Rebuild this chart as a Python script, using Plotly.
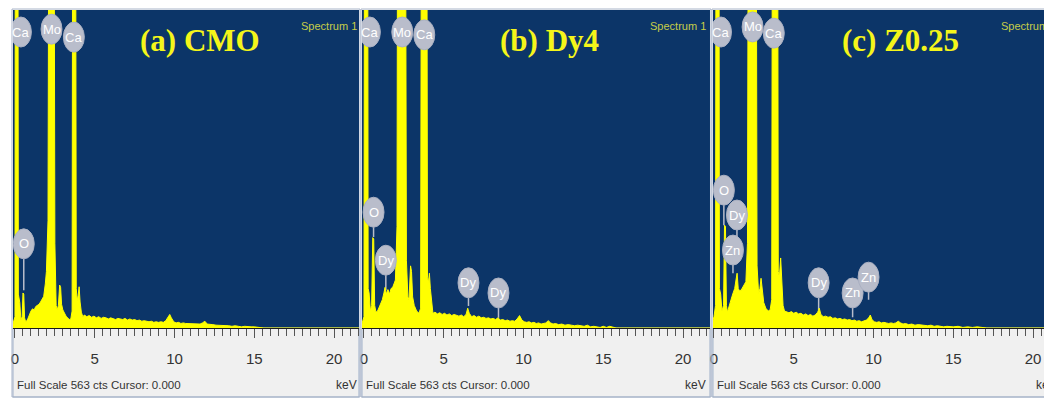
import plotly.graph_objects as go

# ---------------- data ----------------
full_scale_cts = 563
tick_values = [0, 5, 10, 15, 20]
tick_labels = ["0", "5", "10", "15", "20"]
panel_titles = ["(a) CMO", "(b) Dy4", "(c) Z0.25"]

energy_a = [-0.2, 0.0, 0.03, 0.17, 0.21, 0.3, 0.37, 0.45, 0.5, 0.55, 0.6, 0.68, 0.8, 0.9, 1.0, 1.1, 1.2, 1.3,
            1.4, 1.5, 1.6, 1.7, 1.8, 1.9, 1.97, 2.07, 2.15, 2.42, 2.5, 2.58, 2.65, 2.72, 2.8, 2.86, 2.92, 3.0,
            3.1, 3.2, 3.3, 3.4, 3.5, 3.58, 3.63, 3.78, 3.84, 3.9, 3.96, 4.02, 4.08, 4.16, 4.25, 4.35, 4.5, 4.65,
            4.8, 4.95, 5.1, 5.25, 5.4, 5.55, 5.7, 5.85, 6.0, 6.15, 6.3, 6.45, 6.6, 6.75, 6.9, 7.05, 7.2, 7.35,
            7.5, 7.65, 7.8, 7.95, 8.1, 8.25, 8.4, 8.55, 8.7, 8.85, 9.0, 9.15, 9.3, 9.45, 9.6, 9.7, 9.8, 9.95,
            10.1, 10.25, 10.4, 10.55, 10.7, 10.85, 11.0, 11.15, 11.3, 11.45, 11.6, 11.75, 11.9, 12.05, 12.2,
            12.4, 12.6, 12.8, 13.0, 13.2, 13.4, 13.6, 13.8, 14.0, 14.2, 14.4, 14.6, 14.8, 15.0, 15.3, 15.6, 21.8]
counts_a = [0, 20, 1200, 1200, 60, 45, 14, 20, 62, 60, 18, 10, 16, 24, 30, 34, 32, 38,
            40, 42, 46, 50, 56, 78, 100, 190, 1200, 1200, 150, 40, 32, 40, 76, 72, 42, 32,
            26, 21, 18, 15, 16, 30, 1200, 1200, 70, 48, 58, 73, 46, 28, 20, 23, 20, 22,
            19, 21, 18, 20, 17, 19, 18, 16, 18, 17, 15, 17, 16, 15, 17, 14, 16, 14,
            15, 13, 14, 12, 13, 12, 11, 12, 10, 11, 10, 11, 10, 13, 20, 24, 18, 11,
            9, 10, 8, 9, 8, 8, 7, 8, 7, 8, 7, 9, 12, 7, 6,
            6, 5, 5, 5, 4, 4, 3, 4, 3, 2, 3, 2, 2, 2, 1, 0, 0]

energy_b = [-0.2, 0.0, 0.05, 0.22, 0.26, 0.32, 0.4, 0.48, 0.55, 0.61, 0.67, 0.75, 0.85, 0.95, 1.05, 1.15, 1.25,
            1.32, 1.4, 1.5, 1.6, 1.7, 1.8, 1.9, 1.97, 2.07, 2.13, 2.57, 2.66, 2.75, 2.82, 2.92, 2.98, 3.05, 3.15,
            3.3, 3.45, 3.55, 3.62, 3.92, 3.98, 4.04, 4.1, 4.16, 4.25, 4.32, 4.45, 4.6, 4.75, 4.9, 5.05, 5.2,
            5.35, 5.5, 5.65, 5.8, 5.95, 6.1, 6.25, 6.4, 6.5, 6.6, 6.75, 6.9, 7.05, 7.2, 7.35, 7.5, 7.65, 7.8,
            7.95, 8.1, 8.25, 8.4, 8.55, 8.7, 8.85, 9.0, 9.15, 9.3, 9.45, 9.6, 9.75, 9.9, 10.05, 10.2, 10.35,
            10.5, 10.65, 10.8, 10.95, 11.1, 11.25, 11.4, 11.55, 11.7, 11.85, 12.0, 12.2, 12.4, 12.6, 12.8,
            13.0, 13.2, 13.4, 13.6, 13.8, 14.0, 14.2, 14.4, 14.6, 14.8, 15.0, 15.2, 15.4, 15.6, 15.8, 21.8]
counts_b = [0, 20, 1200, 1200, 70, 62, 30, 40, 160, 158, 40, 28, 30, 36, 45, 50, 62,
            72, 60, 68, 60, 70, 72, 78, 85, 180, 1200, 1200, 120, 55, 50, 110, 100, 55, 40,
            30, 26, 35, 1200, 1200, 90, 80, 97, 70, 35, 26, 28, 25, 27, 24, 26, 23,
            25, 22, 24, 23, 21, 23, 20, 24, 35, 26, 20, 22, 19, 21, 18, 19, 17, 18,
            16, 17, 15, 18, 14, 15, 13, 14, 12, 13, 12, 16, 22, 14, 11, 10, 11,
            9, 10, 8, 9, 7, 8, 9, 13, 9, 7, 8, 6, 7, 5, 6,
            5, 4, 5, 4, 3, 5, 2, 3, 2, 1, 3, 1, 3, 1, 0, 0]

energy_c = [-0.2, 0.0, 0.1, 0.14, 0.3, 0.34, 0.42, 0.5, 0.6, 0.66, 0.72, 0.78, 0.84, 0.95, 1.05, 1.12, 1.2,
            1.3, 1.38, 1.45, 1.52, 1.6, 1.7, 1.8, 1.9, 2.0, 2.1, 2.18, 2.62, 2.7, 2.8, 2.88, 2.95, 3.02,
            3.12, 3.25, 3.4, 3.52, 3.62, 3.68, 3.97, 4.03, 4.1, 4.18, 4.25, 4.33, 4.42, 4.55, 4.7, 4.85,
            5.0, 5.15, 5.3, 5.45, 5.6, 5.75, 5.9, 6.05, 6.2, 6.35, 6.5, 6.6, 6.7, 6.85, 7.0, 7.15, 7.3, 7.45,
            7.6, 7.75, 7.9, 8.05, 8.2, 8.35, 8.5, 8.65, 8.8, 8.95, 9.1, 9.25, 9.4, 9.55, 9.7, 9.8, 9.9,
            10.05, 10.2, 10.35, 10.5, 10.65, 10.8, 10.95, 11.1, 11.25, 11.4, 11.55, 11.7, 11.85, 12.0, 12.2,
            12.4, 12.6, 12.8, 13.0, 13.2, 13.4, 13.6, 13.8, 14.0, 14.2, 14.4, 14.6, 14.8, 15.0, 15.3, 15.6,
            15.9, 16.2, 16.5, 16.8, 17.1, 21.8]
counts_c = [0, 20, 40, 1200, 1200, 70, 60, 30, 40, 182, 180, 40, 28, 40, 52, 55, 62,
            70, 85, 97, 70, 66, 67, 72, 78, 82, 150, 1200, 1200, 110, 60, 70, 88, 70,
            45, 35, 30, 32, 50, 1200, 1200, 100, 90, 124, 80, 40, 30, 28, 27, 29,
            26, 28, 25, 26, 23, 25, 22, 24, 21, 23, 28, 35, 24, 20, 21, 19, 20, 17,
            18, 16, 17, 15, 16, 14, 15, 13, 14, 12, 13, 11, 12, 14, 18, 23, 15,
            11, 10, 11, 9, 10, 9, 8, 9, 8, 9, 12, 9, 7, 8, 6,
            7, 5, 6, 5, 4, 4, 5, 3, 4, 3, 2, 3, 2, 2, 3, 1,
            2, 1, 2, 1, 0, 0]

# peak labels: element, energy (keV), label centre (cts), stem foot (cts)
label_el_a = ["Ca", "Mo", "Ca", "O"]
label_kev_a = [0.37, 2.29, 3.69, 0.55]
label_cts_a = [524, 529, 515, 149]
stem_cts_a = [524, 529, 515, 67]

label_el_b = ["Ca", "Mo", "Ca", "O", "Dy", "Dy", "Dy"]
label_kev_b = [0.37, 2.4, 3.78, 0.6, 1.37, 6.55, 8.43]
label_cts_b = [524, 524, 519, 205, 120, 80, 62]
stem_cts_b = [524, 524, 519, 161, 67, 39, 18]

label_el_c = ["Ca", "Mo", "Ca", "O", "Dy", "Zn", "Dy", "Zn", "Zn"]
label_kev_c = [0.44, 2.42, 3.75, 0.62, 1.44, 1.19, 6.56, 8.69, 9.69]
label_cts_c = [524, 533, 522, 244, 200, 138, 80, 62, 90]
stem_cts_c = [524, 533, 522, 182, 147, 97, 32, 19, 50]

# ---------------- styling / layout ----------------
OFF = 8                      # page body margin of the browser
W, H = 1052 - OFF, 398 - OFF  # figure size so that it ends at the window edge
PX_PER_KEV = 16.0
TOP, BASE, BOTTOM = 10, 328, 397          # window pixel rows
panels = [dict(left=10, right=357, zero=12),
          dict(left=360, right=709, zero=362),
          dict(left=712, right=1052, zero=713)]


def px(xw):
    return (xw - OFF) / W


def py(yw):
    return 1 - (yw - OFF) / H


NAVY = "#0c3568"
YELLOW = "#ffff00"
LABEL_GRAY = "#b9bdcb"
SANS = "Liberation Sans, Arial, sans-serif"
SERIF = "Liberation Serif, Times New Roman, serif"

cts_per_px = full_scale_cts / (BASE - TOP)
half_w_kev = 10.5 / PX_PER_KEV
half_h_cts = 15 * cts_per_px

series = [(energy_a, counts_a, label_el_a, label_kev_a, label_cts_a, stem_cts_a),
          (energy_b, counts_b, label_el_b, label_kev_b, label_cts_b, stem_cts_b),
          (energy_c, counts_c, label_el_c, label_kev_c, label_cts_c, stem_cts_c)]

fig = go.Figure()
shapes = []
annotations = []
layout_axes = {}

for i, (p, data) in enumerate(zip(panels, series)):
    E, C, els, kevs, lcts, scts = data
    sfx = "" if i == 0 else str(i + 1)
    xr, yr = "x" + sfx, "y" + sfx
    fig.add_trace(go.Scatter(x=E, y=C, mode="lines", fill="tozeroy", fillcolor=YELLOW,
                             line=dict(color=YELLOW, width=1), xaxis=xr, yaxis=yr,
                             hoverinfo="skip", showlegend=False))
    x0 = (p["left"] - p["zero"]) / PX_PER_KEV
    x1 = (p["right"] - p["zero"]) / PX_PER_KEV
    layout_axes["xaxis" + sfx] = dict(
        domain=[px(p["left"]), min(px(p["right"]), 1.0)], range=[x0, x1], anchor=yr,
        showline=True, linecolor="#1a1a1a", linewidth=1, mirror=False,
        ticks="outside", ticklen=9, tickwidth=1, tickcolor="#555555",
        tickvals=tick_values, ticktext=tick_labels,
        tickfont=dict(family=SANS, size=15, color="#333333"),
        ticklabelstandoff=8,
        minor=dict(dtick=0.5, tick0=0, ticks="outside", ticklen=7, tickwidth=1,
                   tickcolor="#555555", showgrid=False),
        showgrid=False, zeroline=False, fixedrange=True)
    layout_axes["yaxis" + sfx] = dict(
        domain=[py(BASE), py(TOP)], range=[0, full_scale_cts], anchor=xr,
        visible=False, showgrid=False, zeroline=False, fixedrange=True)

    # grey status strip under the spectrum
    shapes.append(dict(type="rect", xref="paper", yref="paper", layer="below",
                       x0=px(p["left"]), x1=px(p["right"]),
                       y0=py(BOTTOM), y1=py(BASE),
                       fillcolor="#f0f0f0", line=dict(color="#9fb0c8", width=1)))
    # window border
    shapes.append(dict(type="rect", xref="paper", yref="paper", layer="above",
                       x0=px(p["left"] - 1), x1=px(p["right"] + 1),
                       y0=py(BOTTOM), y1=py(TOP - 1),
                       fillcolor="rgba(0,0,0,0)", line=dict(color="#a8b4c8", width=1)))

    # element labels
    for el, kv, lc, sc in zip(els, kevs, lcts, scts):
        if sc < lc - half_h_cts:
            shapes.append(dict(type="line", xref=xr, yref=yr, layer="below",
                               x0=kv, x1=kv, y0=sc, y1=lc - half_h_cts,
                               line=dict(color=LABEL_GRAY, width=1.5)))
        shapes.append(dict(type="circle", xref=xr, yref=yr, layer="above",
                           x0=kv - half_w_kev, x1=kv + half_w_kev,
                           y0=lc - half_h_cts, y1=lc + half_h_cts,
                           fillcolor=LABEL_GRAY, line=dict(color="#aab0c2", width=1)))
        annotations.append(dict(xref=xr, yref=yr, x=kv, y=lc, text=el, showarrow=False,
                                font=dict(family=SANS, size=13, color="white"),
                                xanchor="center", yanchor="middle"))

    # panel title and window texts
    annotations.append(dict(xref="paper", yref="paper", x=px(p["left"] + 188), y=py(40),
                            text="<b>" + panel_titles[i] + "</b>", showarrow=False,
                            font=dict(family=SERIF, size=31, color="#f5f51a"),
                            xanchor="center", yanchor="middle"))
    annotations.append(dict(xref="paper", yref="paper", x=px(p["left"] + 287), y=py(26),
                            text="Spectrum 1", showarrow=False,
                            font=dict(family=SANS, size=11, color="#c6cc48"),
                            xanchor="left", yanchor="middle"))
    annotations.append(dict(xref="paper", yref="paper", x=px(p["left"] + 2), y=py(385),
                            text="Full Scale %d cts Cursor: 0.000" % full_scale_cts, showarrow=False,
                            font=dict(family=SANS, size=11.5, color="#333333"),
                            xanchor="left", yanchor="middle"))
    annotations.append(dict(xref="paper", yref="paper", x=px(p["left"] + 347), y=py(385),
                            text="keV", showarrow=False,
                            font=dict(family=SANS, size=12, color="#333333"),
                            xanchor="right", yanchor="middle"))

fig.update_layout(
    width=W, height=H, margin=dict(l=0, r=0, t=0, b=0),
    paper_bgcolor="white", plot_bgcolor=NAVY,
    shapes=shapes, annotations=annotations, showlegend=False,
    **layout_axes)

fig.write_html("out.html")
